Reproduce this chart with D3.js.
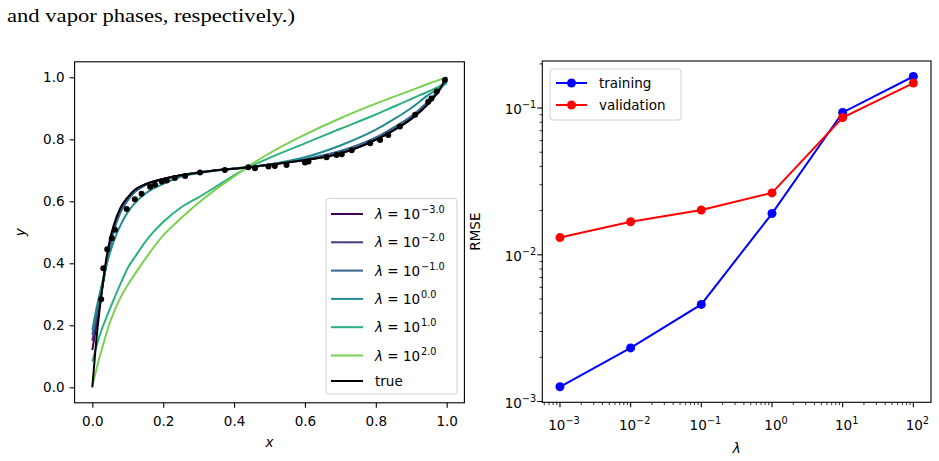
<!DOCTYPE html>
<html>
<head>
<meta charset="utf-8">
<script src="https://cdn.jsdelivr.net/npm/d3@7"></script>
<style>
  body { margin: 0; background: #fff; }
  svg text { font-family: "DejaVu Sans", sans-serif; fill: #000; }
</style>
</head>
<body>
<svg id="fig" width="939" height="461"></svg>
<script>
// ---- data ----
// left panel: fitted curves y(x) on a common x grid
const gridX = [0, 0.01, 0.02, 0.03, 0.04, 0.05, 0.06, 0.08, 0.1, 0.12, 0.15, 0.2, 0.25, 0.3, 0.35, 0.4, 0.45, 0.5, 0.6, 0.7, 0.8, 0.85, 0.9, 0.95, 0.975, 1.0];
const trueY = [0, 0.137, 0.245, 0.337, 0.418, 0.478, 0.521, 0.58, 0.613, 0.637, 0.655, 0.672, 0.684, 0.692, 0.7, 0.705, 0.711, 0.718, 0.733, 0.754, 0.799, 0.829, 0.866, 0.917, 0.952, 1.0];
const fitExponents = [-3, -2, -1, 0, 1, 2];
const fitM3 = [0.12, 0.19, 0.26, 0.335, 0.41, 0.47, 0.515, 0.578, 0.612, 0.636, 0.655, 0.672, 0.684, 0.693, 0.7, 0.705, 0.711, 0.718, 0.733, 0.755, 0.798, 0.829, 0.866, 0.918, 0.952, 0.998];
const fitM2 = [0.15, 0.21, 0.27, 0.335, 0.405, 0.465, 0.51, 0.575, 0.61, 0.634, 0.654, 0.672, 0.684, 0.693, 0.7, 0.706, 0.711, 0.718, 0.734, 0.757, 0.8, 0.831, 0.868, 0.92, 0.952, 0.995];
const fitM1 = [0.17, 0.225, 0.28, 0.335, 0.395, 0.45, 0.5, 0.565, 0.603, 0.63, 0.652, 0.671, 0.684, 0.693, 0.7, 0.706, 0.711, 0.719, 0.736, 0.762, 0.806, 0.838, 0.874, 0.925, 0.955, 0.99];
const fitP0 = [0.185, 0.245, 0.297, 0.348, 0.395, 0.435, 0.47, 0.524, 0.565, 0.594, 0.625, 0.656, 0.679, 0.691, 0.699, 0.705, 0.711, 0.719, 0.742, 0.78, 0.831, 0.864, 0.901, 0.944, 0.962, 0.981];
const fitP1 = [0.083, 0.125, 0.165, 0.197, 0.226, 0.254, 0.282, 0.335, 0.385, 0.42, 0.47, 0.533, 0.58, 0.613, 0.648, 0.684, 0.714, 0.74, 0.787, 0.834, 0.88, 0.905, 0.93, 0.955, 0.968, 0.985];
const fitP2 = [0.005, 0.05, 0.095, 0.135, 0.175, 0.21, 0.24, 0.29, 0.33, 0.365, 0.415, 0.49, 0.545, 0.595, 0.64, 0.68, 0.72, 0.755, 0.815, 0.868, 0.915, 0.937, 0.958, 0.98, 0.99, 1.0];

// noisy samples (black dots)
const sampleX = [0.025, 0.031, 0.042, 0.055, 0.064, 0.097, 0.12, 0.139, 0.163, 0.177, 0.196, 0.21, 0.233, 0.262, 0.304, 0.374, 0.44, 0.459, 0.497, 0.515, 0.548, 0.6, 0.61, 0.661, 0.689, 0.704, 0.732, 0.784, 0.812, 0.835, 0.868, 0.911, 0.948, 0.957, 0.972, 0.995];
const sampleY = [0.284, 0.384, 0.445, 0.481, 0.508, 0.575, 0.607, 0.624, 0.647, 0.653, 0.664, 0.667, 0.675, 0.682, 0.693, 0.701, 0.71, 0.707, 0.712, 0.714, 0.717, 0.725, 0.728, 0.742, 0.749, 0.752, 0.765, 0.787, 0.798, 0.814, 0.841, 0.879, 0.921, 0.932, 0.954, 0.991];

// right panel: RMSE vs lambda
const lambdaVals = [1e-3, 1e-2, 1e-1, 1e0, 1e1, 1e2];
const trainRmse = [0.00126, 0.00232, 0.00459, 0.0191, 0.0933, 0.164];
const validRmse = [0.0131, 0.0168, 0.0202, 0.0264, 0.0862, 0.148];

const linTicks = [0, 0.2, 0.4, 0.6, 0.8, 1.0];

// ---- drawing ----
const svg = d3.select('#fig');
const FS = 13.5;
const minus = s => String(s).replace('-', '\u2212');

svg.append('text')
  .attr('x', 7).attr('y', 22)
  .style('font-family', '"Liberation Serif", serif')
  .style('font-size', '19px')
  .attr('textLength', 288).attr('lengthAdjust', 'spacingAndGlyphs')
  .text('and vapor phases, respectively.)');

const L = { left: 74.6, right: 464.4, top: 61.8, bottom: 402.8 };
const R = { left: 542.3, right: 931, top: 61, bottom: 402.3 };

// matplotlib-like 5% margins
const pad = ([a, b]) => [a - (b - a) * 0.05, b + (b - a) * 0.05];
const xL = d3.scaleLinear().domain(pad(d3.extent(gridX))).range([L.left, L.right]);
const yL = d3.scaleLinear().domain(pad([0, 1])).range([L.bottom, L.top]);

const logPad = ext => pad(ext.map(Math.log10)).map(v => Math.pow(10, v));
const xR = d3.scaleLog().domain(logPad(d3.extent(lambdaVals))).range([R.left, R.right]);
const yR = d3.scaleLog().domain(logPad(d3.extent(trainRmse.concat(validRmse)))).range([R.bottom, R.top]);

// ---------- left panel ----------
const gl = svg.append('g');
const fitColors = [0, 0.16, 0.32, 0.48, 0.64, 0.8].map(t => d3.interpolateViridis(t));
const fits = [fitM3, fitM2, fitM1, fitP0, fitP1, fitP2];
const line = d3.line().x(d => xL(d[0])).y(d => yL(d[1])).curve(d3.curveMonotoneX);

fits.forEach((ys, i) => {
  gl.append('path')
    .datum(gridX.map((x, j) => [x, ys[j]]))
    .attr('d', line)
    .attr('fill', 'none')
    .attr('stroke', fitColors[i])
    .attr('stroke-width', 2);
});

gl.append('path')
  .datum(gridX.map((x, j) => [x, trueY[j]]))
  .attr('d', line)
  .attr('fill', 'none')
  .attr('stroke', '#000')
  .attr('stroke-width', 2);

gl.selectAll('circle.pt')
  .data(sampleX.map((x, j) => [x, sampleY[j]]))
  .join('circle')
  .attr('class', 'pt')
  .attr('cx', d => xL(d[0]))
  .attr('cy', d => yL(d[1]))
  .attr('r', 3)
  .attr('fill', '#000');

gl.append('rect')
  .attr('x', L.left).attr('y', L.top)
  .attr('width', L.right - L.left).attr('height', L.bottom - L.top)
  .attr('fill', 'none').attr('stroke', '#000').attr('stroke-width', 1.1);

const styleAxis = g => {
  g.select('.domain').remove();
  g.selectAll('line').attr('stroke', '#000').attr('stroke-width', 1.1);
  g.selectAll('text').style('font-size', FS + 'px').style('font-family', '"DejaVu Sans", sans-serif').attr('fill', '#000');
};

gl.append('g')
  .attr('transform', `translate(0,${L.bottom})`)
  .call(d3.axisBottom(xL).tickValues(linTicks).tickSize(5).tickPadding(9).tickFormat(d3.format('.1f')))
  .call(styleAxis);

gl.append('g')
  .attr('transform', `translate(${L.left},0)`)
  .call(d3.axisLeft(yL).tickValues(linTicks).tickSize(5).tickPadding(5).tickFormat(d3.format('.1f')))
  .call(styleAxis);

gl.append('text')
  .attr('x', (L.left + L.right) / 2).attr('y', 447)
  .attr('text-anchor', 'middle')
  .style('font-size', FS + 'px').style('font-style', 'italic')
  .text('x');

gl.append('text')
  .attr('transform', `translate(25,${(L.top + L.bottom) / 2}) rotate(-90)`)
  .attr('text-anchor', 'middle')
  .style('font-size', FS + 'px').style('font-style', 'italic')
  .text('y');

// legend (left)
const legL = gl.append('g');
legL.append('rect')
  .attr('x', 326).attr('y', 198.5).attr('width', 131).attr('height', 195.5)
  .attr('rx', 3)
  .attr('fill', '#fff').attr('fill-opacity', 0.8)
  .attr('stroke', '#d0d0d0').attr('stroke-width', 1);

const legendRows = fitExponents.map((e, i) => ({ exp: e, color: fitColors[i] }));
legendRows.push({ exp: null, color: '#000' });
legendRows.forEach((r, i) => {
  const y = i < 6 ? 214 + i * 28.3 : 214 + 5 * 28.3 + 25.5;
  legL.append('line')
    .attr('x1', 331).attr('x2', 363).attr('y1', y).attr('y2', y)
    .attr('stroke', r.color).attr('stroke-width', 2);
  const t = legL.append('text')
    .attr('x', 375).attr('y', y + 5)
    .style('font-size', FS + 'px')
    .attr('xml:space', 'preserve');
  if (r.exp === null) {
    t.text('true');
  } else {
    t.append('tspan').style('font-style', 'italic').text('\u03bb');
    t.append('tspan').text(' = 10');
    t.append('tspan').attr('dy', -6).attr('dx', 1).style('font-size', (FS * 0.72) + 'px').text(minus(r.exp.toFixed(1)));
  }
});

// ---------- right panel ----------
const gr = svg.append('g');

const series = [
  { name: 'training', vals: trainRmse, color: '#0000ff' },
  { name: 'validation', vals: validRmse, color: '#ff0000' }
];
const lineR = d3.line().x(d => xR(d[0])).y(d => yR(d[1]));
series.forEach(s => {
  const pts = lambdaVals.map((l, j) => [l, s.vals[j]]);
  gr.append('path').datum(pts).attr('d', lineR)
    .attr('fill', 'none').attr('stroke', s.color).attr('stroke-width', 2);
  gr.append('g').selectAll('circle').data(pts).join('circle')
    .attr('cx', d => xR(d[0])).attr('cy', d => yR(d[1])).attr('r', 4.5)
    .attr('fill', s.color);
});

gr.append('rect')
  .attr('x', R.left).attr('y', R.top)
  .attr('width', R.right - R.left).attr('height', R.bottom - R.top)
  .attr('fill', 'none').attr('stroke', '#000').attr('stroke-width', 1.1);

// log ticks
function logTicks(scale) {
  const [a, b] = scale.domain();
  const major = [], minor = [];
  for (let e = Math.floor(Math.log10(a)); e <= Math.ceil(Math.log10(b)); e++) {
    const p = Math.pow(10, e);
    if (p >= a && p <= b) major.push(p);
    for (let k = 2; k <= 9; k++) {
      const v = k * p;
      if (v >= a && v <= b) minor.push(v);
    }
  }
  return { major, minor };
}

const tx = logTicks(xR);
const ty = logTicks(yR);

const ticksG = gr.append('g').attr('stroke', '#000').attr('stroke-width', 1.1);
tx.major.forEach(v => ticksG.append('line').attr('x1', xR(v)).attr('x2', xR(v)).attr('y1', R.bottom).attr('y2', R.bottom + 5));
tx.minor.forEach(v => ticksG.append('line').attr('x1', xR(v)).attr('x2', xR(v)).attr('y1', R.bottom).attr('y2', R.bottom + 2.8).attr('stroke-width', 0.8));
ty.major.forEach(v => ticksG.append('line').attr('y1', yR(v)).attr('y2', yR(v)).attr('x1', R.left).attr('x2', R.left - 5));
ty.minor.forEach(v => ticksG.append('line').attr('y1', yR(v)).attr('y2', yR(v)).attr('x1', R.left).attr('x2', R.left - 2.8).attr('stroke-width', 0.8));

function powLabel(sel, v) {
  const e = Math.round(Math.log10(v));
  sel.append('tspan').text('10');
  sel.append('tspan').attr('dy', -6).style('font-size', (FS * 0.72) + 'px').text(minus(e));
}

tx.major.forEach(v => {
  const t = gr.append('text')
    .attr('x', xR(v) + 4).attr('y', R.bottom + 28)
    .attr('text-anchor', 'middle')
    .style('font-size', FS + 'px');
  powLabel(t, v);
});
ty.major.forEach(v => {
  const t = gr.append('text')
    .attr('x', R.left - 6).attr('y', yR(v) + 6)
    .attr('text-anchor', 'end')
    .style('font-size', FS + 'px');
  powLabel(t, v);
});

gr.append('text')
  .attr('x', (R.left + R.right) / 2).attr('y', 453)
  .attr('text-anchor', 'middle')
  .style('font-size', FS + 'px').style('font-style', 'italic')
  .text('\u03bb');

gr.append('text')
  .attr('transform', `translate(480,${(R.top + R.bottom) / 2}) rotate(-90)`)
  .attr('text-anchor', 'middle')
  .style('font-size', FS + 'px')
  .text('RMSE');

// legend (right)
const legR = gr.append('g');
legR.append('rect')
  .attr('x', 550).attr('y', 69).attr('width', 131).attr('height', 51)
  .attr('rx', 3)
  .attr('fill', '#fff').attr('fill-opacity', 0.8)
  .attr('stroke', '#d0d0d0').attr('stroke-width', 1);
series.forEach((s, i) => {
  const y = 83 + i * 22;
  legR.append('line').attr('x1', 556).attr('x2', 587).attr('y1', y).attr('y2', y)
    .attr('stroke', s.color).attr('stroke-width', 2);
  legR.append('circle').attr('cx', 571.5).attr('cy', y).attr('r', 4.5).attr('fill', s.color);
  legR.append('text').attr('x', 599).attr('y', y + 5)
    .style('font-size', FS + 'px').text(s.name);
});
</script>
</body>
</html>
